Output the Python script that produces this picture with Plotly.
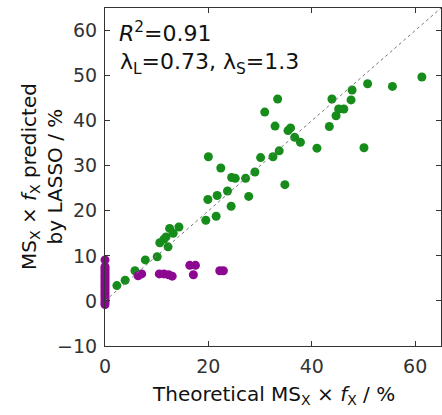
import plotly.graph_objects as go

# Green series: theoretical vs LASSO-predicted (present components)
green_x = [2.3, 3.9, 5.8, 7.8, 10.1, 10.6, 11.4, 12.2, 12.5, 13.2, 14.3, 11.8,
           19.5, 21.5, 24.4, 19.9, 21.7, 23.7, 20.0, 22.4, 24.5, 25.2, 27.2, 27.8,
           29.0, 30.1, 30.9, 32.5, 33.7, 32.9, 33.4, 34.8, 35.4, 35.9, 36.7, 37.8,
           41.0, 43.4, 43.9, 44.7, 45.2, 46.2, 47.6, 47.8, 50.1, 50.8, 55.6, 61.3]
green_y = [3.4, 4.6, 6.7, 9.1, 9.8, 12.9, 13.7, 12.0, 16.1, 15.0, 16.4, 14.2,
           17.9, 18.8, 21.0, 22.5, 23.4, 24.4, 32.0, 29.5, 27.4, 27.2, 27.2, 23.2,
           28.6, 31.8, 41.9, 32.0, 33.3, 38.8, 44.8, 25.8, 37.8, 38.4, 36.3, 35.2,
           33.9, 38.7, 44.8, 41.1, 42.6, 42.6, 44.6, 46.8, 34.0, 48.2, 47.6, 49.7]

# Purple series: absent / minor components
purple_x = [0, 0, 0, 0, 0, 0, 0, 0, 0, 0, 0, 0, 0, 0, 0, 0, 0, 0, 0,
            6.4, 7.1, 10.5, 11.4, 12.3, 13.0, 16.4, 17.5, 17.1, 22.2, 22.9]
purple_y = [-0.8, -0.3, 0.2, 0.7, 1.2, 1.7, 2.2, 2.7, 3.2, 3.7, 4.2, 4.7, 5.2,
            5.7, 6.2, 6.7, 7.2, 7.6, 9.1,
            5.6, 6.0, 6.0, 6.0, 5.8, 5.5, 7.9, 7.9, 5.8, 6.7, 6.7]

# Identity (y = x) reference line
diag_x = [0, 65]
diag_y = [0, 65]

x_ticks = [0, 20, 40, 60]
y_ticks = [-10, 0, 10, 20, 30, 40, 50, 60]

GREEN = "rgb(22,140,26)"
PURPLE = "rgb(140,8,145)"
AX = "#333333"
FONT = "DejaVu Sans, Liberation Sans, Arial, sans-serif"

fig = go.Figure()
fig.add_trace(go.Scatter(x=green_x, y=green_y, mode="markers", cliponaxis=False,
                         marker=dict(size=9, color=GREEN, line=dict(width=0)),
                         showlegend=False))
fig.add_trace(go.Scatter(x=purple_x, y=purple_y, mode="markers", cliponaxis=False,
                         marker=dict(size=9, color=PURPLE, line=dict(width=0)),
                         showlegend=False))
fig.add_trace(go.Scatter(x=diag_x, y=diag_y, mode="lines",
                         line=dict(color="#777777", width=1, dash="dot"),
                         showlegend=False))

axis_common = dict(showgrid=False, zeroline=False, showline=True, linecolor=AX,
                   linewidth=1.2, mirror="ticks", ticks="inside", ticklen=5,
                   tickcolor=AX, tickwidth=1,
                   tickfont=dict(family=FONT, size=19, color="#333333"))

fig.update_xaxes(range=[0, 65], tickvals=x_ticks, ticklabelstandoff=3, **axis_common)
fig.update_yaxes(range=[-10, 65], tickvals=y_ticks, ticklabelstandoff=3, **axis_common)

W, H = 442, 415
L, R, T, B = 105, 1, 8, 69
pw, ph = W - L - R, H - T - B

def px(xp):
    return (xp - L) / pw

def py(yp):
    return 1 - (yp - T) / ph

fig.update_layout(
    width=W, height=H,
    margin=dict(l=L, r=R, t=T, b=B),
    paper_bgcolor="white", plot_bgcolor="white",
    font=dict(family=FONT, color="#111111"),
    annotations=[
        dict(xref="paper", yref="paper", x=px(117), y=py(16), xanchor="left", yanchor="top",
             text="<i>R</i><sup>2</sup>=0.91", showarrow=False,
             font=dict(family=FONT, size=22, color="#111111")),
        dict(xref="paper", yref="paper", x=px(118), y=py(47), xanchor="left", yanchor="top",
             text="λ<sub>L</sub>=0.73, λ<sub>S</sub>=1.3", showarrow=False,
             font=dict(family=FONT, size=22, color="#111111")),
        dict(xref="paper", yref="paper", x=px(273), y=py(395), xanchor="center", yanchor="middle",
             text="Theoretical MS<sub>X</sub> × <i>f</i><sub>X</sub> / %", showarrow=False,
             font=dict(family=FONT, size=20, color="#111111")),
        dict(xref="paper", yref="paper", x=px(42), y=py(177), xanchor="center", yanchor="middle",
             text="MS<sub>X</sub> × <i>f</i><sub>X</sub> predicted<br>by LASSO / %", showarrow=False,
             textangle=-90,
             font=dict(family=FONT, size=20, color="#111111")),
    ],
)

fig.write_html("out.html")
